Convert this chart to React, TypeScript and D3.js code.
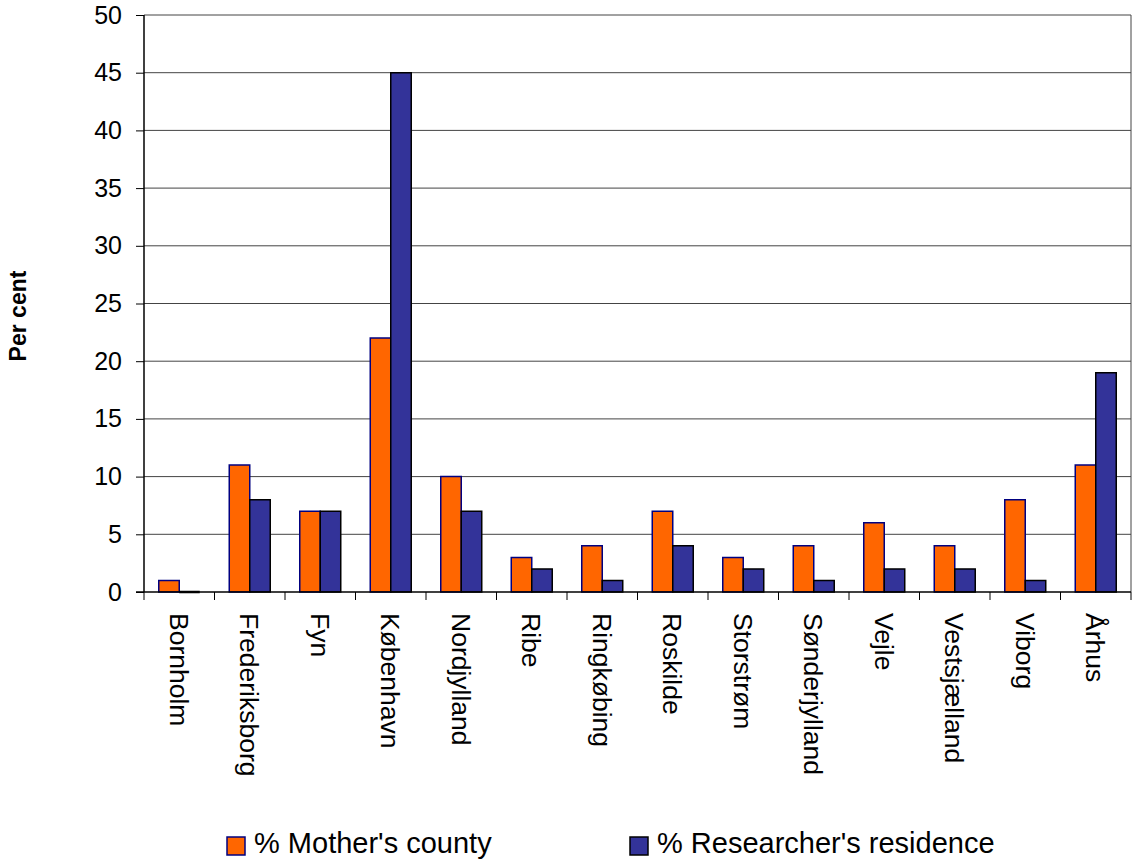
import React from "react";
import * as d3 from "d3";

const counties = ["Bornholm", "Frederiksborg", "Fyn", "København", "Nordjylland", "Ribe", "Ringkøbing", "Roskilde", "Storstrøm", "Sønderjylland", "Vejle", "Vestsjælland", "Viborg", "Århus"];
const mothersCounty = [1, 11, 7, 22, 10, 3, 4, 7, 3, 4, 6, 4, 8, 11];
const researchersResidence = [0, 8, 7, 45, 7, 2, 1, 4, 2, 1, 2, 2, 1, 19];
const seriesNames = ["% Mother's county", "% Researcher's residence"];
const yTicks = [0, 5, 10, 15, 20, 25, 30, 35, 40, 45, 50];

const fills = ["#FF6600", "#333399"];
const strokes = ["#000080", "#000000"];
const font = "Liberation Sans, Arial, sans-serif";

const App = () => {
  const svgRef = React.useRef(null);
  const width = 1133, height = 863;
  const margin = { left: 144, right: 2, top: 15, bottom: 271 };

  React.useEffect(() => {
    const svgEl = d3.select(svgRef.current);
    svgEl.selectAll("*").remove();
    const iw = width - margin.left - margin.right;
    const ih = height - margin.top - margin.bottom;

    const x0 = d3.scaleBand().domain(counties).range([0, iw]).padding(0);
    const x1 = d3.scaleBand().domain(seriesNames).range([0, x0.bandwidth()]).paddingInner(0).paddingOuter(0.72);
    const y = d3.scaleLinear().domain([0, 50]).range([ih, 0]);

    const g = svgEl.append("g").attr("transform", `translate(${margin.left},${margin.top})`);

    // gridlines
    g.append("g").selectAll("line").data(yTicks.filter(t => t > 0)).enter().append("line")
      .attr("x1", 0).attr("x2", iw)
      .attr("y1", d => y(d)).attr("y2", d => y(d))
      .attr("stroke", "#444").attr("stroke-width", 1);

    // right border
    g.append("line").attr("x1", iw).attr("x2", iw).attr("y1", 0).attr("y2", ih).attr("stroke", "#444");

    // bars (paths so that zero-height bars still show their outline)
    const rows = counties.map((c, i) => ({ county: c, vals: [mothersCounty[i], researchersResidence[i]] }));
    const grp = g.append("g").selectAll("g").data(rows).enter().append("g")
      .attr("transform", d => `translate(${x0(d.county)},0)`);
    grp.selectAll("path").data(d => d.vals.map((v, k) => ({ v, k }))).enter().append("path")
      .attr("d", d => {
        const bx = x1(seriesNames[d.k]), bw = x1.bandwidth();
        const top = y(d.v), h = y(0) - y(d.v);
        return `M${bx},${top}h${bw}v${h}h${-bw}Z`;
      })
      .attr("fill", d => fills[d.k])
      .attr("stroke", d => strokes[d.k])
      .attr("stroke-width", d => d.v === 0 ? 2.5 : 1.5);

    // y axis
    const yAxis = d3.axisLeft(y).tickValues(yTicks).tickSize(8).tickPadding(14);
    const yg = g.append("g").call(yAxis);
    yg.select(".domain").attr("stroke", "#000").attr("stroke-width", 1.5).attr("d", `M0,0V${ih}`);
    yg.selectAll("text").attr("font-family", font).attr("font-size", 25).attr("fill", "#000");

    // x axis
    const xg = g.append("g").attr("transform", `translate(0,${ih})`);
    xg.append("line").attr("x1", -8).attr("x2", iw).attr("stroke", "#000").attr("stroke-width", 1.5);
    const bounds = d3.range(counties.length + 1).map(i => i * x0.step());
    xg.selectAll("line.tick").data(bounds).enter().append("line").attr("class", "tick")
      .attr("x1", d => d).attr("x2", d => d).attr("y1", 0).attr("y2", 8)
      .attr("stroke", "#000").attr("stroke-width", 1);
    xg.selectAll("text").data(counties).enter().append("text")
      .attr("transform", d => `translate(${x0(d) + x0.bandwidth() / 2},21) rotate(90)`)
      .attr("dy", "0.35em")
      .attr("font-family", font).attr("font-size", 26.5)
      .text(d => d);

    // y label
    svgEl.append("text")
      .attr("transform", `translate(18,316) rotate(-90)`)
      .attr("text-anchor", "middle")
      .attr("dy", "0.35em")
      .attr("font-family", font).attr("font-size", 23).attr("font-weight", "bold")
      .text("Per cent");

    // legend
    const legX = [227, 630];
    const leg = svgEl.append("g").selectAll("g").data(seriesNames).enter().append("g")
      .attr("transform", (d, i) => `translate(${legX[i]},837)`);
    leg.append("rect").attr("width", 18).attr("height", 18)
      .attr("fill", (d, i) => fills[i]).attr("stroke", (d, i) => strokes[i]).attr("stroke-width", 1.5);
    leg.append("text").attr("x", 27).attr("y", 16)
      .attr("font-family", font).attr("font-size", 29)
      .text(d => d);
  }, []);

  return <svg ref={svgRef} width={width} height={height} style={{ position: "absolute", left: 0, top: 0 }} />;
};

export default App;
